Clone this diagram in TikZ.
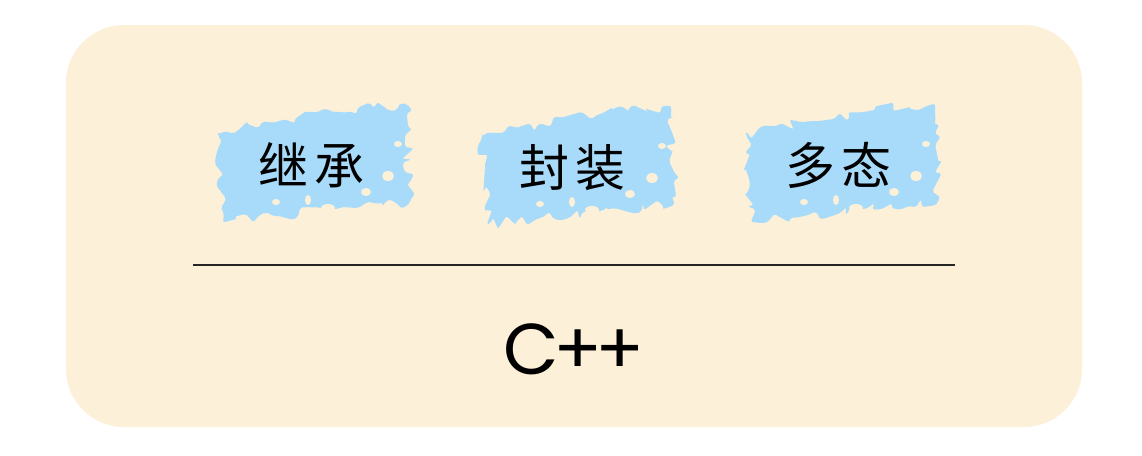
\documentclass[tikz,border=0pt]{standalone}
\usepackage{fontspec}
\setmainfont{Poppins}
\newfontfamily\cjk{Noto Sans CJK SC}
\usetikzlibrary{decorations.pathmorphing}
\definecolor{cream}{RGB}{252,240,216}
\definecolor{splash}{RGB}{168,218,250}
\tikzset{
  word/.style={font=\cjk\fontsize{50}{50}\selectfont, text=black},
  splashfill/.style={fill=splash, decorate,
    decoration={random steps, segment length=6pt, amplitude=6pt}},
  hole/.style={fill=cream}
}
% blob behind a word, given its left top corner
\newcommand\splat[2]{%
  \begin{scope}[shift={(#1,#2)}]
    \fill[splashfill, rounded corners=2pt] (2,30) -- (60,18) -- (120,8) -- (190,0) -- (194,98) -- (120,105) -- (60,112) -- (8,118) -- cycle;
    \fill[hole] (150,88) ellipse (5 and 4);
    \fill[hole] (172,72) ellipse (6 and 5);
    \fill[hole] (112,104) ellipse (7 and 4);
    \fill[hole] (60,98) ellipse (4 and 3);
    \fill[hole] (182,40) ellipse (4 and 3);
    \fill[hole] (92,96) ellipse (3 and 5);
  \end{scope}}
\begin{document}
\begin{tikzpicture}[x=1pt,y=-1pt]
                    \pgfmathsetseed{7}
                    \fill[white] (0,0) rectangle (1142,455);
                    \fill[cream, rounded corners=58pt] (66,25) rectangle (1082,427);

                    \splat{216}{104}
                    \splat{480}{106}
                    \splat{744}{104}

                    \node[word] (inherit) at (311,165) {继\hspace{6pt}承};
                    \node[word] (encap) at (572,168) {封\hspace{6pt}装};
                    \node[word] (poly) at (838,165) {多\hspace{6pt}态};

                    \coordinate (ruleL) at (193,265);
                    \coordinate (ruleR) at (955,265);
                    \draw[black!85, line width=1.3pt] (ruleL) -- (ruleR);

                    \node (cpp) at (574,349) {\fontsize{72}{72}\selectfont C\kern-5pt+\kern-7pt+};
\end{tikzpicture}
\end{document}
